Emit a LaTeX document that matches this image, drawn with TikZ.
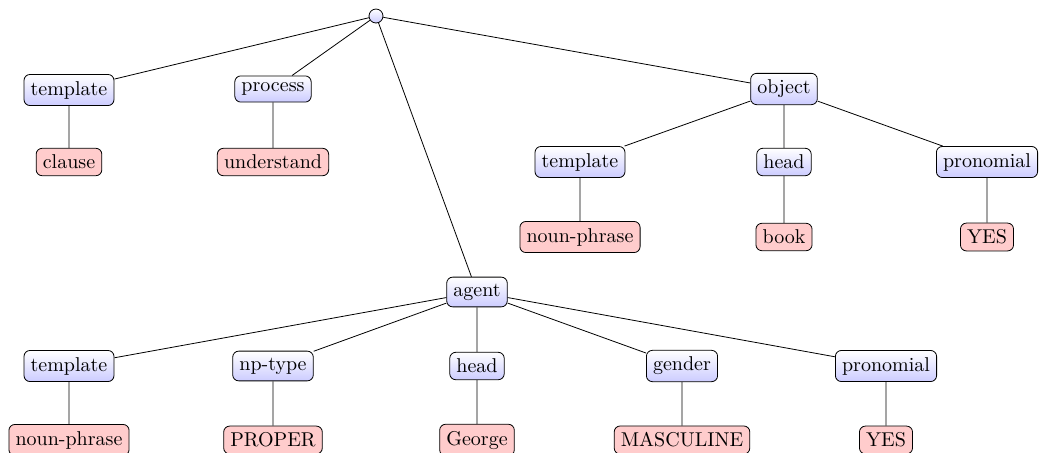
\documentclass[tikz,border=0pt]{standalone}
\usepackage{tikz}

\tikzset{
	attr/.style = {draw, rounded corners = 3pt, top color = white, bottom color = blue!20},
	val/.style = {draw, rounded corners = 3pt, fill = red!20},
	root/.style = {draw, circle, inner sep = 0pt, minimum size = 7pt, top color = white, bottom color = blue!20}
}

\begin{document}
\begin{tikzpicture}[x = 0.5pt, y = -0.5pt]
	\useasboundingbox (0,0) rectangle (1040,452);
	\node[root] (top) at (376,16) {};
	% clause level
	\node[attr] (tmpl) at (69,90) {template};
	\node[val] (clause) at (69,162) {clause};
	\node[attr] (proc) at (273,89) {process};
	\node[val] (underst) at (273,162) {understand};
	\node[attr] (obj) at (784,89) {object};
	\node[attr] (agent) at (477,292) {agent};
	% object
	\node[attr] (otmpl) at (580,162) {template};
	\node[val] (onp) at (580,237) {noun-phrase};
	\node[attr] (ohead) at (784,162) {head};
	\node[val] (book) at (784,237) {book};
	\node[attr] (opron) at (987,162) {pronomial};
	\node[val] (oyes) at (987,237) {YES};
	% agent
	\node[attr] (atmpl) at (69,366) {template};
	\node[val] (anp) at (69,440) {noun-phrase};
	\node[attr] (antype) at (273,366) {np-type};
	\node[val] (proper) at (273,440) {PROPER};
	\node[attr] (ahead) at (477,366) {head};
	\node[val] (george) at (477,440) {George};
	\node[attr] (agender) at (682,366) {gender};
	\node[val] (masc) at (682,440) {MASCULINE};
	\node[attr] (apron) at (886,366) {pronomial};
	\node[val] (ayes) at (886,440) {YES};
	\draw (top) -- (tmpl) (top) -- (proc) (top) -- (obj) (top) -- (agent)
		(tmpl) -- (clause)
		(proc) -- (underst);
	\draw (obj) -- (otmpl) (obj) -- (ohead) (obj) -- (opron)
		(otmpl) -- (onp)
		(ohead) -- (book)
		(opron) -- (oyes);
	\draw (agent) -- (atmpl) (agent) -- (antype) (agent) -- (ahead) (agent) -- (agender) (agent) -- (apron)
		(atmpl) -- (anp)
		(antype) -- (proper)
		(ahead) -- (george)
		(agender) -- (masc)
		(apron) -- (ayes);
\end{tikzpicture}
\end{document}
